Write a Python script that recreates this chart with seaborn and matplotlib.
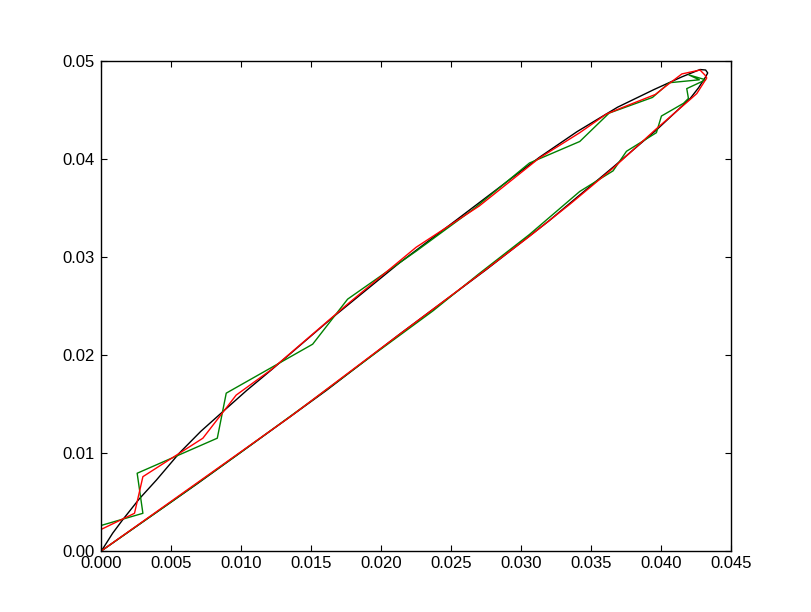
import pandas as pd
import matplotlib
matplotlib.use("Agg")
import matplotlib.pyplot as plt
import seaborn as sns

# ==========================================
# DATA
# ==========================================

# black loop: upper branch going out, lower branch coming back
black_x = [0.0, 0.0008, 0.0015, 0.0027, 0.00393, 0.00558, 0.0071, 0.00866, 0.0104, 0.01216,
           0.0165, 0.02132, 0.0253, 0.02919, 0.03133, 0.0340, 0.0369, 0.0395, 0.0415, 0.0428,
           0.0432, 0.04335, 0.0432, 0.0427, 0.0421, 0.0397, 0.0366, 0.0335, 0.0320, 0.0275,
           0.0213, 0.0161, 0.0135, 0.0068, 0.0]
black_y = [0.0, 0.0018, 0.00314, 0.0053, 0.00723, 0.0100, 0.0122, 0.01419, 0.0164, 0.01849,
           0.0238, 0.02942, 0.0337, 0.03791, 0.04020, 0.0428, 0.0453, 0.0471, 0.0484, 0.04915,
           0.0491, 0.0488, 0.0484, 0.0473, 0.0462, 0.0430, 0.0392, 0.0355, 0.0337, 0.0287,
           0.0221, 0.0164, 0.0137, 0.0068, 0.0]

# green path
green_x = [0.0, 0.00296, 0.00255, 0.00828, 0.00892, 0.0151, 0.0176, 0.0225, 0.0266, 0.0306,
           0.0342, 0.0363, 0.0394, 0.0406, 0.04275, 0.0420, 0.0432, 0.04185, 0.04197, 0.04162,
           0.04004, 0.03968, 0.03754, 0.03658, 0.0342, 0.0306, 0.0270, 0.0237, 0.0197, 0.0150,
           0.0100, 0.0050, 0.0]
green_y = [0.0026, 0.00383, 0.00792, 0.0115, 0.0161, 0.0211, 0.0257, 0.0306, 0.0349, 0.0396,
           0.0418, 0.0447, 0.0463, 0.0478, 0.0481, 0.0486, 0.0481, 0.0472, 0.0462, 0.0457,
           0.0444, 0.0427, 0.0408, 0.0388, 0.0367, 0.0323, 0.0283, 0.0245, 0.0203, 0.0153,
           0.0101, 0.0050, 0.0]

# red path
red_x = [0.0, 0.00236, 0.00296, 0.00725, 0.00963, 0.01214, 0.0176, 0.0225, 0.0270, 0.0313,
         0.0342, 0.0361, 0.0373, 0.0396, 0.0404, 0.0415, 0.0428, 0.04316, 0.04328, 0.04257,
         0.0421, 0.0396, 0.0366, 0.0335, 0.0305, 0.0270, 0.0213, 0.0135, 0.0]
red_y = [0.0022, 0.00383, 0.00757, 0.0115, 0.0159, 0.0185, 0.0252, 0.0310, 0.0352, 0.0401,
         0.0427, 0.0446, 0.0453, 0.0466, 0.0475, 0.0487, 0.0491, 0.04857, 0.04829, 0.0467,
         0.0461, 0.0430, 0.0391, 0.0354, 0.0320, 0.0282, 0.0221, 0.0137, 0.0]

x_ticks = [0.000, 0.005, 0.010, 0.015, 0.020, 0.025, 0.030, 0.035, 0.040, 0.045]
y_ticks = [0.00, 0.01, 0.02, 0.03, 0.04, 0.05]

# ==========================================
# STYLE
# ==========================================

sns.set_style("ticks")
plt.rcParams.update({
    "font.family": ["Liberation Sans", "DejaVu Sans"],
    "font.size": 12,
    "xtick.direction": "in",
    "ytick.direction": "in",
    "xtick.top": True,
    "ytick.right": True,
    "xtick.major.size": 4,
    "ytick.major.size": 4,
    "xtick.major.pad": 4,
    "ytick.major.pad": 5,
    "xtick.labelsize": 12,
    "ytick.labelsize": 12,
    "axes.linewidth": 1.0,
    "axes.edgecolor": "black",
    "xtick.color": "black",
    "ytick.color": "black",
})

# ==========================================
# PLOT
# ==========================================

fig, ax = plt.subplots(figsize=(8.12, 6.12), dpi=100)
fig.subplots_adjust(left=0.125, right=0.9, bottom=0.1, top=0.9)

curves = [
    (black_x, black_y, "black"),
    (green_x, green_y, (0.0, 0.5, 0.0)),
    (red_x, red_y, (1.0, 0.0, 0.0)),
]
for xs, ys, col in curves:
    df = pd.DataFrame({"x": xs, "y": ys})
    sns.lineplot(data=df, x="x", y="y", sort=False, estimator=None,
                 color=col, linewidth=1.0, ax=ax, legend=False)

ax.set_xlim(0, 0.045)
ax.set_ylim(0, 0.05)
ax.set_xticks(x_ticks)
ax.set_yticks(y_ticks)
ax.set_xticklabels([f"{t:.3f}" for t in x_ticks])
ax.set_yticklabels([f"{t:.2f}" for t in y_ticks])
ax.set_xlabel("")
ax.set_ylabel("")
for side in ["top", "right", "bottom", "left"]:
    ax.spines[side].set_visible(True)

fig.savefig("out.png", dpi=100, facecolor="white")
